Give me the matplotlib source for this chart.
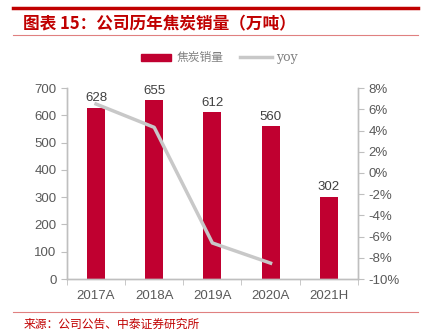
import numpy as np
from matplotlib import pyplot as plt
from matplotlib.lines import Line2D
from matplotlib.patches import Rectangle

plt.rcParams['font.family'] = ['Noto Sans CJK SC', 'DejaVu Sans']

# data
years = ['2017A', '2018A', '2019A', '2020A', '2021H']
sales = [628, 655, 612, 560, 302]
yoy = [6.5, 4.3, -6.6, -8.5]
left_ticks = [0, 100, 200, 300, 400, 500, 600, 700]
right_ticks = [-10, -8, -6, -4, -2, 0, 2, 4, 6, 8]

bar_c = '#C00030'
line_c = '#C8C8C8'
txt_c = '#595959'
spine_c = '#BFBFBF'
num_font = 'Liberation Sans'

fig = plt.figure(figsize=(4.21, 3.35), dpi=100)
ax = fig.add_axes([0.159, 0.167, 0.691, 0.570])
ax2 = ax.twinx()

x = np.arange(len(years))
ax.bar(x, sales, width=0.31, color=bar_c, zorder=2)
for xi, v in zip(x, sales):
    ax.text(xi, v + 12, str(v), ha='center', va='bottom', fontsize=9.5,
            color='#404040', family=num_font)
ax.set_xlim(-0.5, 4.5)
ax.set_ylim(0, 700)
ax.set_yticks(left_ticks)
ax.set_xticks(x)
ax.set_xticklabels(years)
ax.set_xticks(np.arange(-0.5, 5, 1), minor=True)
ax.tick_params(axis='x', which='major', length=0, pad=8, labelsize=9.5, labelcolor=txt_c)
ax.tick_params(axis='x', which='minor', length=4, color=spine_c, direction='out')
ax.tick_params(axis='y', length=4, color=spine_c, labelsize=9.5, labelcolor=txt_c)

ax2.plot(x[:len(yoy)], yoy, color=line_c, lw=2.5, zorder=3)
ax2.set_ylim(-10, 8)
ax2.set_yticks(right_ticks)
ax2.set_yticklabels(['%d%%' % t for t in right_ticks])
ax2.tick_params(axis='y', length=4, color=spine_c, labelsize=9.5, labelcolor=txt_c)

for a in (ax, ax2):
    a.spines['top'].set_visible(False)
    for s in ('left', 'right', 'bottom'):
        a.spines[s].set_color(spine_c)
        a.spines[s].set_linewidth(1.0)
    for lab in a.get_xticklabels() + a.get_yticklabels():
        lab.set_family(num_font)

# header / footer
fig.add_artist(Line2D([0.031, 0.993], [0.976, 0.976], color='#C00000', lw=2.5))
fig.text(0.055, 0.928, '图表 15：公司历年焦炭销量（万吨）', color='#C00000',
         fontsize=12, fontweight='bold', style='italic', va='center')
fig.add_artist(Line2D([0.031, 0.993], [0.896, 0.896], color='#E08080', lw=0.8))
fig.add_artist(Line2D([0.031, 0.993], [0.069, 0.069], color='#E08080', lw=0.8))
fig.text(0.055, 0.033, '来源：公司公告、中泰证券研究所', color='#C00000',
         fontsize=8.5, va='center')

# legend
fig.add_artist(Rectangle((0.335, 0.818), 0.072, 0.022, color=bar_c, transform=fig.transFigure))
fig.text(0.42, 0.829, '焦炭销量', color='#808080', fontsize=8.5, va='center')
fig.add_artist(Line2D([0.57, 0.645], [0.829, 0.829], color=line_c, lw=2.5))
fig.text(0.655, 0.829, 'yoy', color='#808080', fontsize=9, va='center', family='DejaVu Serif')

fig.savefig('out.png', dpi=100)
